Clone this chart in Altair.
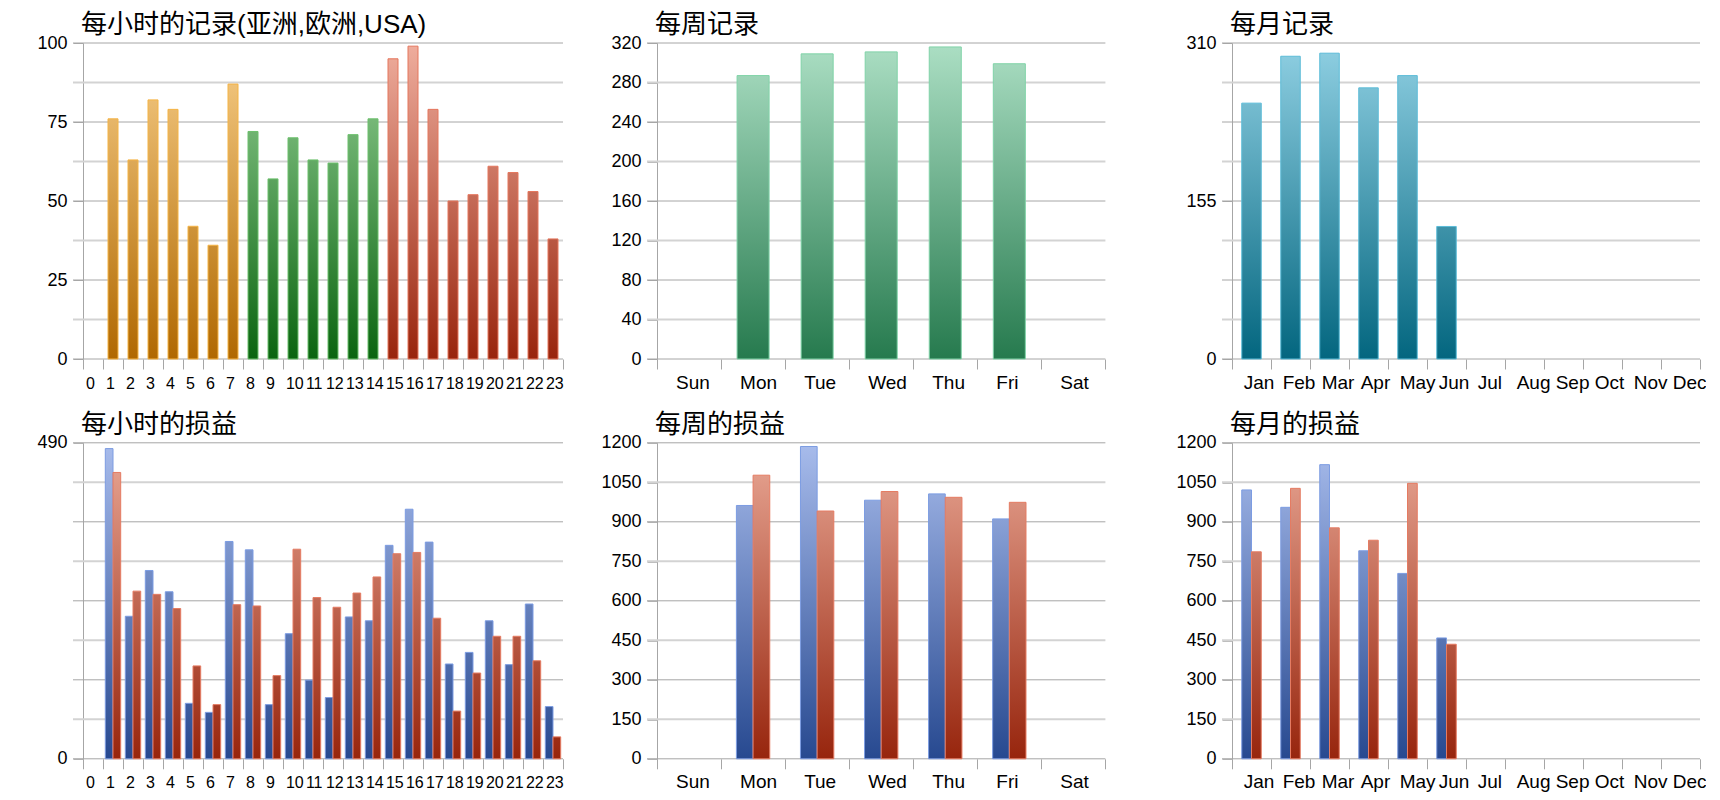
import altair as alt
import pandas as pd

# ---------------- data ----------------
HOURS = [str(h) for h in range(24)]
HOUR_REGION = ["亚洲"] * 8 + ["欧洲"] * 7 + ["USA"] * 9
HOUR_RECORDS = [None, 76, 63, 82, 79, 42, 36, 87, 72, 57, 70, 63, 62, 71, 76,
                95, 99, 79, 50, 52, 61, 59, 53, 38]

WEEKDAYS = ["Sun", "Mon", "Tue", "Wed", "Thu", "Fri", "Sat"]
WEEK_RECORDS = [None, 287, 309, 311, 316, 299, None]

MONTHS = ["Jan", "Feb", "Mar", "Apr", "May", "Jun",
          "Jul", "Aug", "Sep", "Oct", "Nov", "Dec"]
MONTH_RECORDS = [251, 297, 300, 266, 278, 130, None, None, None, None, None, None]

SERIES = ["系列1", "系列2"]
HOUR_PROFIT_1 = [None, 481, 221, 292, 259, 86, 72, 337, 324, 84, 194, 122, 95,
                 220, 214, 331, 387, 336, 147, 165, 214, 146, 240, 81]
HOUR_PROFIT_2 = [None, 444, 260, 255, 233, 144, 84, 239, 237, 129, 325, 250, 235,
                 257, 282, 318, 320, 218, 74, 133, 190, 190, 152, 34]
WEEK_PROFIT_1 = [None, 962, 1186, 982, 1006, 911, None]
WEEK_PROFIT_2 = [None, 1077, 941, 1015, 993, 974, None]
MONTH_PROFIT_1 = [1021, 955, 1117, 790, 704, 459, None, None, None, None, None, None]
MONTH_PROFIT_2 = [786, 1027, 877, 830, 1046, 435, None, None, None, None, None, None]

TITLES = ["每小时的记录(亚洲,欧洲,USA)", "每周记录", "每月记录",
          "每小时的损益", "每周的损益", "每月的损益"]
Y_MAX = [100, 320, 310, 490, 1200, 1200]
Y_LABELS = [[0, 25, 50, 75, 100],
            [0, 40, 80, 120, 160, 200, 240, 280, 320],
            [0, 155, 310],
            [0, 490],
            [0, 150, 300, 450, 600, 750, 900, 1050, 1200],
            [0, 150, 300, 450, 600, 750, 900, 1050, 1200]]

# ---------------- style ----------------
FONT = "Liberation Sans, Noto Sans CJK SC, sans-serif"
MAJOR = "#a6a6a6"
MINOR = "#d3d3d3"
H = 316
XEXT = 36
TOP_PAD = 4
TITLE_OFFSET = -4

REGION_COLORS = {"亚洲": ("#f8cf8a", "#b06800", "#f5b445"),
                 "欧洲": ("#98d298", "#0a6410", "#6cc06c"),
                 "USA": ("#efae9e", "#98240c", "#e5765d")}
WEEK_COLORS = ("#acdfc4", "#267a4e", "#80d3a8")
MONTH_COLORS = ("#90d0e3", "#03667f", "#5cbcd8")
SERIES_COLORS = {"系列1": ("#a8bcec", "#274990", "#7c9ce2"),
                 "系列2": ("#eaa997", "#97250d", "#e57b62")}


def grad(v, vmax, top, bottom):
    # gradient anchored to the plot area: top of plot -> light, baseline -> dark
    return {"gradient": "linear", "x1": 0, "y1": 1 - vmax / v, "x2": 0, "y2": 1,
            "stops": [{"offset": 0, "color": top}, {"offset": 1, "color": bottom}]}


def fill_channel(df, vmax):
    conds = [{"test": f"datum.k === {int(r.k)}",
              "value": grad(r.v, vmax, r.top, r.bottom)} for r in df.itertuples()]
    return {"condition": conds, "value": "#888888"}


def panel(i, cats, df, width, yext, label_dx, label_size, grouped=False, opad=0.0):
    vmax = Y_MAX[i]
    ys = alt.Scale(domain=[0, vmax], nice=False, zero=True)
    yaxis = alt.Axis(title=None, values=Y_LABELS[i], format="d", grid=False,
                     ticks=True, tickSize=10, tickColor=MAJOR, domain=True,
                     domainColor=MAJOR, labelPadding=6, labelFont=FONT,
                     labelFontSize=18, labelColor="#000000",
                     minExtent=yext, maxExtent=yext)
    g = pd.DataFrame({"v": [vmax * j / 8 for j in range(9)],
                      "major": [j % 2 == 0 for j in range(9)]})
    minor = alt.Chart(g).transform_filter("!datum.major").mark_rule(
        color=MINOR, strokeWidth=2).encode(
        y=alt.Y("v:Q", scale=ys, axis=yaxis), x=alt.value(-10), x2=alt.value(width))
    major = alt.Chart(g).transform_filter("datum.major").mark_rule(
        color=MAJOR, strokeWidth=1).encode(
        y=alt.Y("v:Q", scale=ys, axis=yaxis), x=alt.value(-10), x2=alt.value(width))

    x = alt.X("cat:N", sort=cats,
              scale=alt.Scale(domain=cats, paddingInner=0, paddingOuter=0),
              axis=alt.Axis(title=None, labelAngle=0, tickBand="extent", ticks=True,
                            tickSize=10, tickColor=MAJOR, tickWidth=1, domain=False,
                            grid=False, labelAlign="left", labelOffset=label_dx,
                            labelBaseline="alphabetic", labelPadding=19,
                            labelFont=FONT, labelFontSize=label_size,
                            labelColor="#000000", labelOverlap=False,
                            minExtent=XEXT, maxExtent=XEXT))
    enc = dict(x=x, y=alt.Y("v:Q", scale=ys, axis=yaxis),
               fill=fill_channel(df, vmax),
               stroke=alt.Stroke("st:N", scale=None, legend=None))
    if grouped:
        enc["xOffset"] = alt.XOffset("grp:N", sort=SERIES,
                                     scale=alt.Scale(domain=SERIES, paddingInner=0,
                                                     paddingOuter=opad))
        bars = alt.Chart(df).mark_bar(strokeWidth=1).encode(**enc)
    else:
        bars = alt.Chart(df).mark_bar(strokeWidth=1,
                                      width=alt.RelativeBandSize(0.5)).encode(**enc)
    return alt.layer(minor, major, bars).properties(
        width=width, height=H,
        title=alt.TitleParams(TITLES[i], anchor="start", frame="group", fontSize=26,
                              font=FONT, fontWeight="normal", color="#000000",
                              offset=TITLE_OFFSET, dx=-2))


def single_df(cats, vals, groups, colors):
    rows = []
    for c, v, g in zip(cats, vals, groups):
        if v is None:
            continue
        top, bottom, st = colors[g]
        rows.append(dict(k=len(rows), cat=c, v=v, grp=g, top=top, bottom=bottom, st=st))
    return pd.DataFrame(rows)


def pair_df(cats, vals1, vals2):
    rows = []
    for c, a, b in zip(cats, vals1, vals2):
        for g, v in zip(SERIES, (a, b)):
            if v is None:
                continue
            top, bottom, st = SERIES_COLORS[g]
            rows.append(dict(k=len(rows), cat=c, v=v, grp=g, top=top, bottom=bottom, st=st))
    return pd.DataFrame(rows)


df1 = single_df(HOURS, HOUR_RECORDS, HOUR_REGION, REGION_COLORS)
df2 = single_df(WEEKDAYS, WEEK_RECORDS, ["w"] * 7, {"w": WEEK_COLORS})
df3 = single_df(MONTHS, MONTH_RECORDS, ["m"] * 12, {"m": MONTH_COLORS})
df4 = pair_df(HOURS, HOUR_PROFIT_1, HOUR_PROFIT_2)
df5 = pair_df(WEEKDAYS, WEEK_PROFIT_1, WEEK_PROFIT_2)
df6 = pair_df(MONTHS, MONTH_PROFIT_1, MONTH_PROFIT_2)

W1, W2, W3 = 480, 448.4, 468
E1, E2, E3 = 74.6, 82.3, 114.4

c1 = panel(0, HOURS, df1, W1, E1, -7.6, 16)
c2 = panel(1, WEEKDAYS, df2, W2, E2, -13.5, 19)
c3 = panel(2, MONTHS, df3, W3, E3, -8.3, 19)
c4 = panel(3, HOURS, df4, W1, E1, -7.6, 16, grouped=True, opad=0.3)
c5 = panel(4, WEEKDAYS, df5, W2, E2, -13.5, 19, grouped=True, opad=0.92)
c6 = panel(5, MONTHS, df6, W3, E3, -8.3, 19, grouped=True, opad=1.0)

RES = dict(x="independent", y="independent", xOffset="independent")
top_row = alt.hconcat(c1, c2, c3, spacing=10).resolve_scale(**RES)
bottom_row = alt.hconcat(c4, c5, c6, spacing=10).resolve_scale(**RES)
chart = alt.vconcat(top_row, bottom_row, spacing=16.8).resolve_scale(**RES).properties(
    padding={"top": TOP_PAD, "left": 0, "right": 0, "bottom": 0},
    background="white").configure_view(stroke=None)

chart.save("out.html", embed_options={"renderer": "svg", "actions": False})
